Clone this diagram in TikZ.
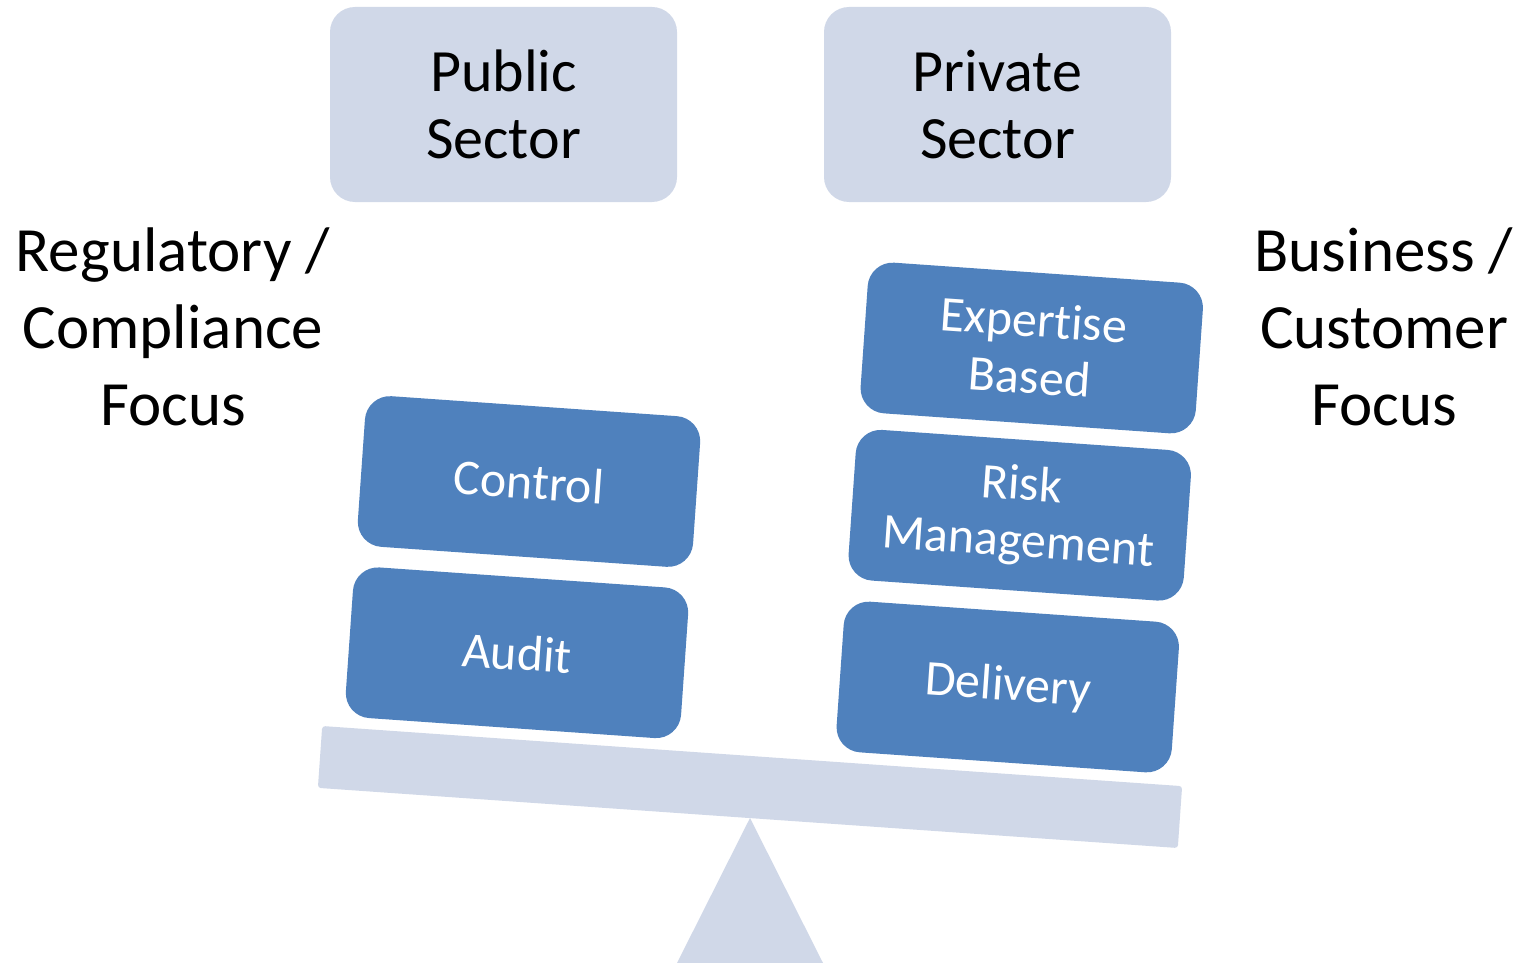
\documentclass[tikz,border=0pt]{standalone}
\usepackage{fontspec}
\setmainfont{Carlito}[Ligatures=NoCommon]
\definecolor{boxblue}{HTML}{4F81BD}
\definecolor{lightblue}{HTML}{D0D8E8}
\begin{document}
\begin{tikzpicture}[x=1pt,y=-1pt,
  sectorbox/.style={fill=lightblue, rounded corners=25pt, minimum width=347pt, minimum height=195pt, inner sep=0pt, align=center, font=\fontsize{60}{67}\selectfont, text=black},
  bluebox/.style={fill=boxblue, rounded corners=25pt, minimum width=336pt, minimum height=151pt, inner sep=0pt, align=center, font=\fontsize{50}{57}\selectfont, text=white, rotate=-4},
  sidetext/.style={align=center, inner sep=0pt, font=\fontsize{63}{77}\selectfont, text=black},
  beambar/.style={fill=lightblue, rounded corners=3pt, minimum width=862pt, minimum height=62pt, inner sep=0pt, rotate=-4}]
\useasboundingbox (0,0) rectangle (1517,963);
\fill[white] (0,0) rectangle (1517,963);
% sector headers
\node[sectorbox] (public) at (503.5,104.5) {Public\\Sector};
\node[sectorbox] (private) at (997.5,104.5) {Private\\Sector};
% side labels
\node[sidetext] (regulatory) at (173,327) {Regulatory /\\Compliance\\Focus};
\node[sidetext] (business) at (1384,327) {Business /\\Customer\\Focus};
% fulcrum and beam
\node[beambar] (beam) at (750,787) {};
\coordinate (apex) at (750,818);
\coordinate (baseL) at (677,963);
\coordinate (baseR) at (823,963);
\fill[lightblue] (apex) -- (baseL) -- (baseR) -- cycle;
% blocks on the left
\node[bluebox] (control) at (529,481.5) {Control};
\node[bluebox] (audit) at (517,652.75) {Audit};
% blocks on the right
\node[bluebox] (expertise) at (1031.75,348) {Expertise\\Based};
\node[bluebox] (risk) at (1019.75,515.25) {Risk\\Management};
\node[bluebox] (delivery) at (1007.75,687) {Delivery};
\end{tikzpicture}
\end{document}
